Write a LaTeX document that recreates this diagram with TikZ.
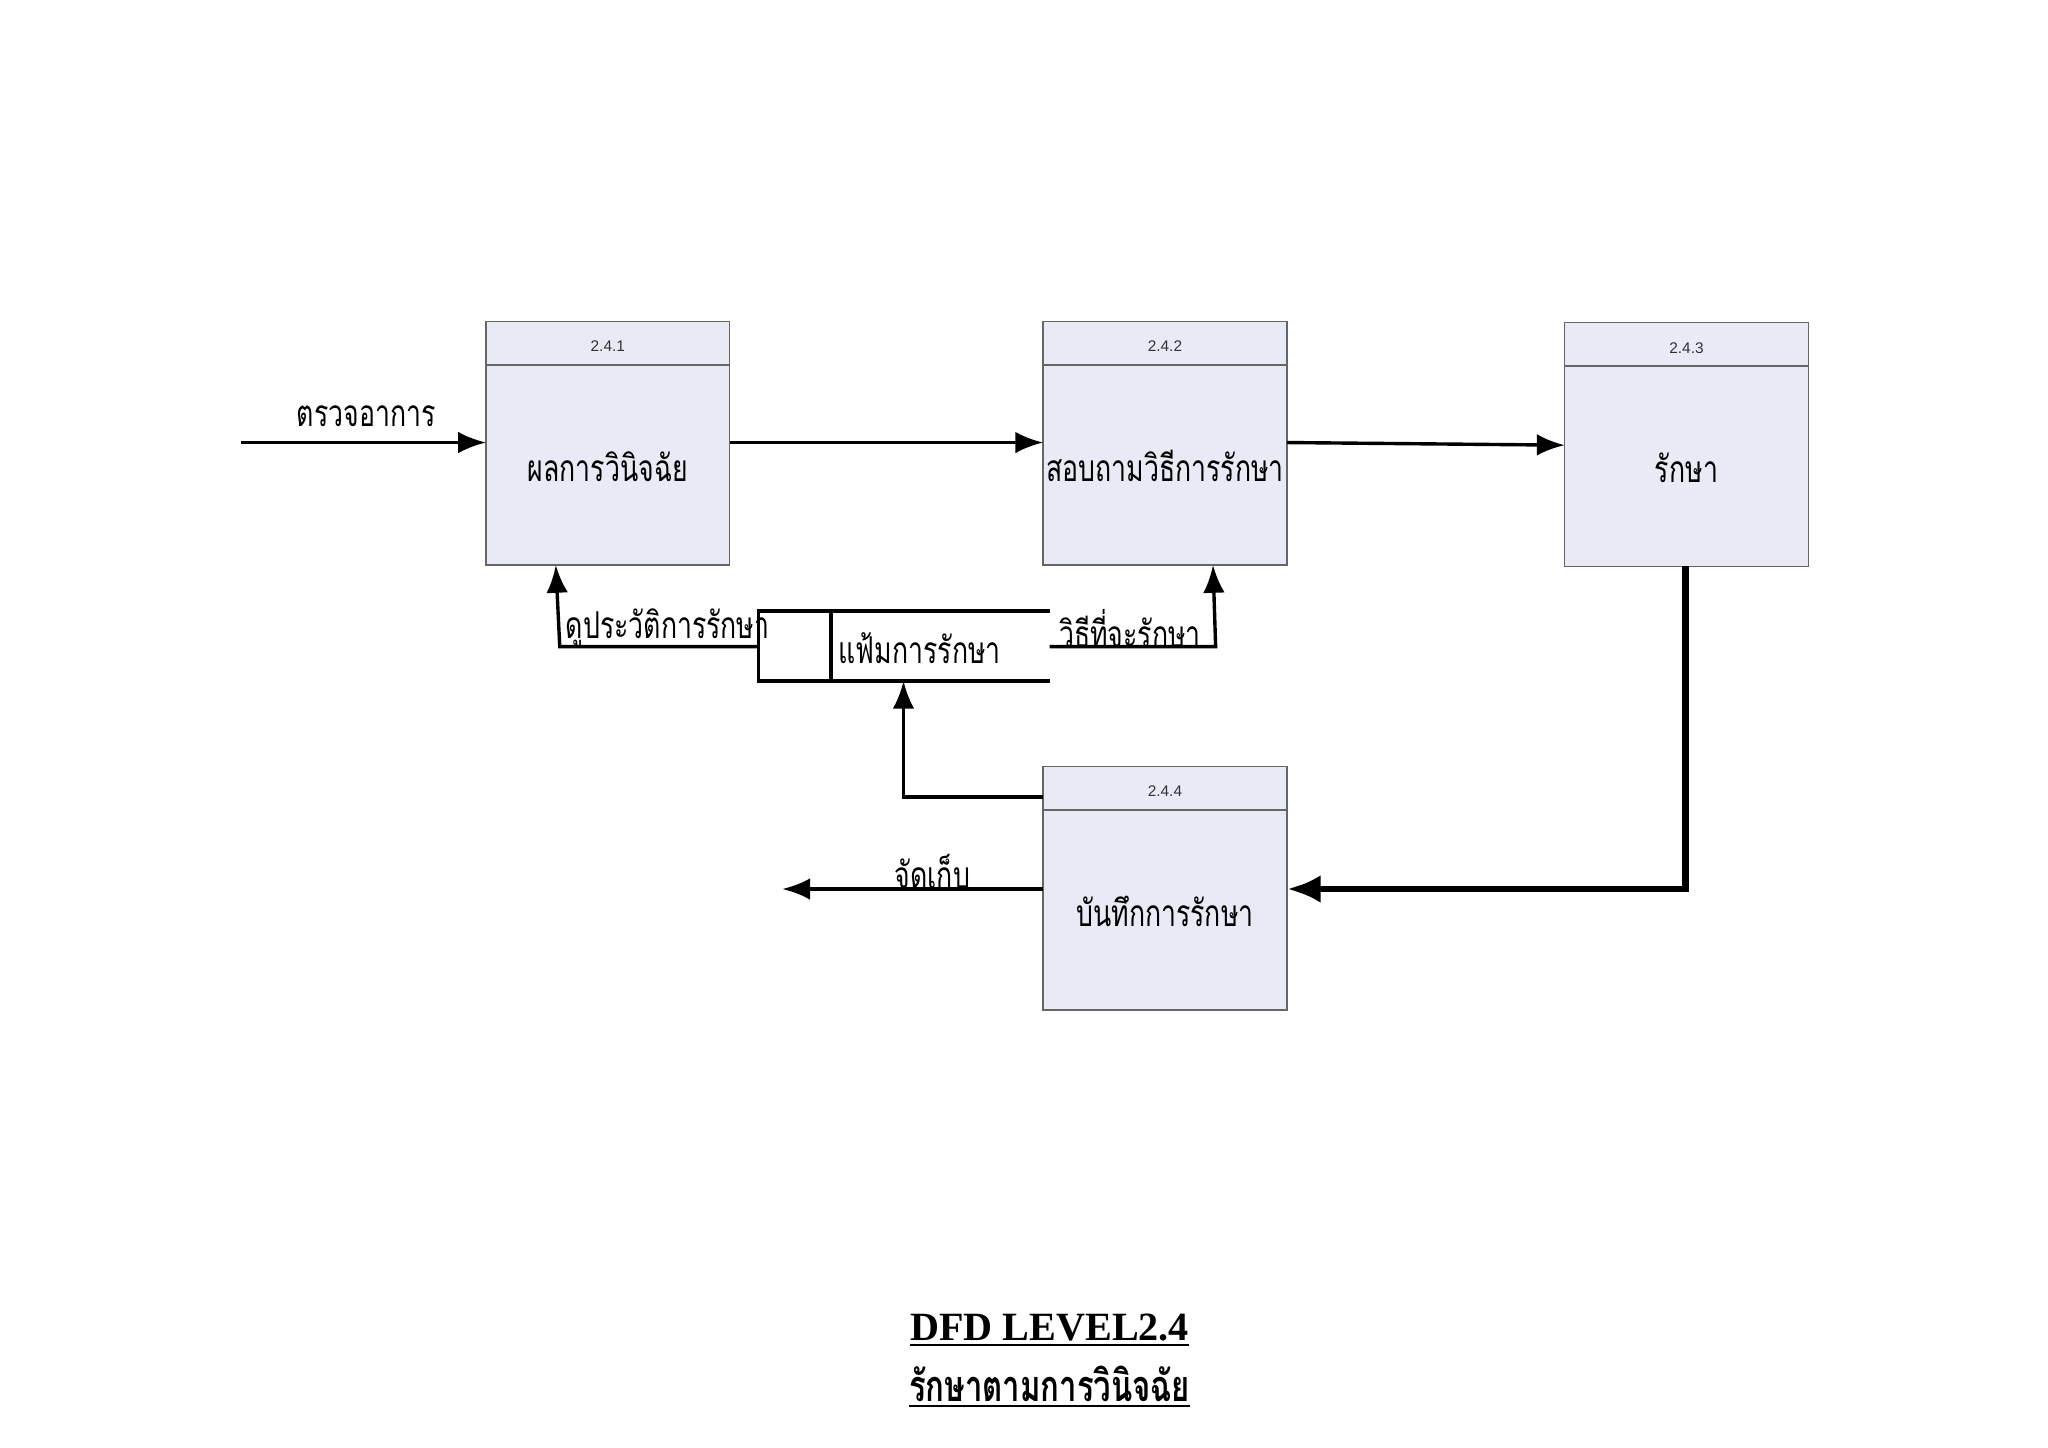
\documentclass[tikz,border=0pt]{standalone}
\usepackage{fontspec}
\setmainfont{Liberation Sans}
\newfontfamily\thaifont[Script=Thai,FakeStretch=0.72]{Loma}
\newfontfamily\titlefont{Liberation Serif}
\usetikzlibrary{arrows.meta}
\begin{document}
\begin{tikzpicture}[x=0.015cm,y=-0.015cm,
  proc/.style={draw=gray!80!black,fill={rgb,255:red,232;green,234;blue,246},line width=0.5pt},
  flow/.style={line width=1.1pt,-{Latex[length=9pt,width=7pt]}},
  thick flow/.style={line width=2.2pt,-{Latex[length=11pt,width=9pt]}},
  lbl/.style={font=\thaifont\fontsize{12}{14}\selectfont,inner sep=1pt},
  num/.style={font=\fontsize{5}{6}\selectfont,text=black!80}]
\useasboundingbox (0,0) rectangle (1555,1099);
\foreach \n/\x/\y/\t/\lab in {a/369/244/2.4.1/ผลการวินิจฉัย, b/792/244/2.4.2/สอบถามวิธีการรักษา, c/1188/245/2.4.3/รักษา, d/792/582/2.4.4/บันทึกการรักษา}{
  \draw[proc] (\x,\y) rectangle ++(185,185);
  \draw[gray!80!black,line width=0.5pt] (\x,\y+33) -- ++(185,0);
  \node[num] (\n n) at (\x+92.5,\y+19) {\t};
  \node[lbl] (\n) at (\x+92.5,\y+110) {\lab};
}
\coordinate (in) at (183,336);
\draw[flow] (in) -- (369,336);
\node[lbl] (l1) at (278,316) {ตรวจอาการ};
\draw[flow] (554,336) -- (792,336);
\draw[flow] (977,336) -- (1188,338);
\draw[thick flow] (1280,430) -- (1280,675) -- (977,675);
\draw[flow] (792,605) -- (686,605) -- (686,517);
\coordinate (out) at (594,675);
\draw[flow] (792,675) -- (out);
\node[lbl] (l2) at (708,662) {จัดเก็บ};
\draw[line width=1.1pt] (797,464) -- (576,464) -- (576,517) -- (797,517);
\draw[line width=1.1pt] (631,464) -- (631,517);
\node[lbl,anchor=west] (ds) at (634,492) {แฟ้มการรักษา};
\draw[flow] (576,491) -- (425,491) -- (422,429);
\node[lbl] (l3) at (507,477) {ดูประวัติการรักษา};
\draw[flow] (797,491) -- (923,491) -- (921,429);
\node[lbl] (l4) at (858,477) {วิธีที่จะรักษา};
\node[font=\titlefont\bfseries\fontsize{13}{16}\selectfont] (t1) at (797,1010) {\underline{DFD LEVEL2.4}};
\node[font=\thaifont\bfseries\fontsize{14}{18}\selectfont] (t2) at (797,1053) {\underline{รักษาตามการวินิจฉัย}};
\end{tikzpicture}
\end{document}
